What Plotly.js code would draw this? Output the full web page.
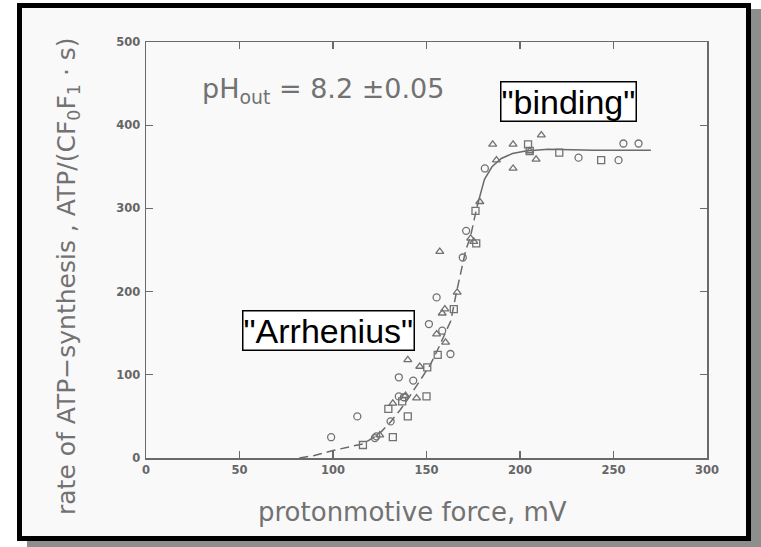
<!DOCTYPE html>
<html>
<head>
<meta charset="utf-8">
<script src="https://cdn.plot.ly/plotly-3.0.1.min.js"></script>
<style>
  html, body { margin: 0; padding: 0; background: #ffffff; }
  #wrap { position: relative; width: 761px; height: 547px; overflow: hidden; background: #ffffff; }
  #frame { position: absolute; left: 17px; top: 3px; width: 724px; height: 528px;
           border: 5px solid #000; background: #f9f9fa; box-shadow: 10px 6px 0 #8e8e8e; }
  #chart { position: absolute; left: 0; top: 0; width: 761px; height: 547px; }
</style>
</head>
<body>
<div id="wrap">
  <div id="frame"></div>
  <div id="chart"></div>
</div>
<script>
// ---- data ----
const circlesX = [99, 113, 122.4, 123.2, 130.8, 135.2, 135.2, 137.9, 142.9, 151.3, 155.4, 158.4, 162.8, 169.4, 171.2, 181.2, 231.3, 252.7, 255.3, 263.4];
const circlesY = [25, 50, 24, 26, 44, 97, 74, 73, 93, 161, 193, 153, 125, 241, 273, 348, 361, 358, 378, 378];

const squaresX = [116, 129.6, 132, 137, 140, 150, 150.4, 156, 164.6, 176.2, 176.6, 204.3, 205.2, 221, 243.4];
const squaresY = [15.6, 59, 25, 68, 50, 74, 109, 124, 179, 297, 258, 377, 369, 367, 358];

const trianglesX = [125, 132, 140, 138.8, 144.7, 146.4, 155.4, 157.1, 158.4, 159.8, 160.2, 166.4, 173.6, 175.3, 178.5, 185.4, 187.4, 196.3, 196.3, 205.2, 208.6, 211.4];
const trianglesY = [27.6, 65.7, 118, 75, 72, 110, 149, 248, 174, 179, 139, 199, 264, 260, 308, 377, 358, 377, 348, 369, 359, 388];

const fitDashX = [82, 90, 100, 110, 116, 122, 126, 131, 136, 141, 146, 152, 157, 163, 166, 171, 173.5, 175.3, 177];
const fitDashY = [0, 3, 9, 14, 17, 25, 32, 44, 58, 74, 92, 112, 135, 165, 199, 250, 266, 286, 302];
const fitSolidX = [177, 179, 181, 185, 190, 196, 203, 215, 240, 270];
const fitSolidY = [302, 320, 335, 350, 360, 366, 369, 371, 370, 370];

const xTicks = [0, 50, 100, 150, 200, 250, 300];
const yTicks = [0, 100, 200, 300, 400, 500];

const ink = '#6a6a6a';
const markerBase = { size: 7, color: '#727272', line: { color: '#727272', width: 1.3 } };

const traces = [
  { x: fitDashX, y: fitDashY, mode: 'lines', line: { color: ink, width: 1.5, dash: '9px,5px' }, hoverinfo: 'skip' },
  { x: fitSolidX, y: fitSolidY, mode: 'lines', line: { color: ink, width: 1.5 }, hoverinfo: 'skip' },
  { x: circlesX, y: circlesY, mode: 'markers', marker: Object.assign({}, markerBase, { symbol: 'circle-open' }) },
  { x: squaresX, y: squaresY, mode: 'markers', marker: Object.assign({}, markerBase, { symbol: 'square-open' }) },
  { x: trianglesX, y: trianglesY, mode: 'markers', marker: Object.assign({}, markerBase, { symbol: 'triangle-up-open' }) }
];

const tickFont = { family: 'DejaVu Sans', size: 11.5, color: '#666', weight: 'bold' };
const labelFont = { family: 'DejaVu Sans', color: '#727272' };

const layout = {
  width: 761, height: 547,
  margin: { l: 146, r: 54, t: 42, b: 89 },
  paper_bgcolor: 'rgba(0,0,0,0)',
  plot_bgcolor: 'rgba(0,0,0,0)',
  showlegend: false,
  xaxis: {
    range: [0, 300], tickvals: xTicks, ticktext: xTicks.map(String),
    showgrid: false, zeroline: false, showline: true, mirror: 'ticks',
    linecolor: ink, linewidth: 1.5, ticks: 'inside', ticklen: 7, tickwidth: 1.3, tickcolor: ink,
    tickfont: tickFont, ticklabelstandoff: 1
  },
  yaxis: {
    range: [0, 500], tickvals: yTicks, ticktext: yTicks.map(String),
    showgrid: false, zeroline: false, showline: true, mirror: 'ticks',
    linecolor: ink, linewidth: 1.5, ticks: 'inside', ticklen: 7, tickwidth: 1.3, tickcolor: ink,
    tickfont: tickFont, ticklabelstandoff: 2
  },
  annotations: [
    { xref: 'paper', yref: 'paper', x: (68 - 146) / 561, y: (458 - 276) / 416, xanchor: 'center', yanchor: 'middle',
      textangle: -90, showarrow: false,
      text: 'rate of ATP−synthesis , ATP/(CF<sub>0</sub>F<sub>1</sub> · s)',
      font: Object.assign({ size: 25 }, labelFont) },
    { xref: 'paper', yref: 'paper', x: (412 - 146) / 561, y: (458 - 512) / 416, xanchor: 'center', yanchor: 'middle',
      showarrow: false, text: 'protonmotive force, mV',
      font: Object.assign({ size: 26 }, labelFont) },
    { xref: 'paper', yref: 'paper', x: (200 - 146) / 561, y: (458 - 90) / 416, xanchor: 'left', yanchor: 'middle',
      showarrow: false, text: 'pH<sub>out</sub> = 8.2 ±0.05',
      font: Object.assign({ size: 27 }, labelFont) },
    { xref: 'paper', yref: 'paper', x: (568 - 146) / 561, y: (458 - 101) / 416, xanchor: 'center', yanchor: 'middle',
      showarrow: false, text: '"binding"', bordercolor: '#000', borderwidth: 1.5, borderpad: 0, bgcolor: '#ffffff',
      font: { family: 'Liberation Sans', size: 34, color: '#000' } },
    { xref: 'paper', yref: 'paper', x: (328 - 146) / 561, y: (458 - 330) / 416, xanchor: 'center', yanchor: 'middle',
      showarrow: false, text: '"Arrhenius"', bordercolor: '#000', borderwidth: 1.5, borderpad: 0, bgcolor: '#ffffff',
      font: { family: 'Liberation Sans', size: 34, color: '#000' } }
  ]
};

Plotly.newPlot('chart', traces, layout, { displayModeBar: false, staticPlot: true });
</script>
</body>
</html>
